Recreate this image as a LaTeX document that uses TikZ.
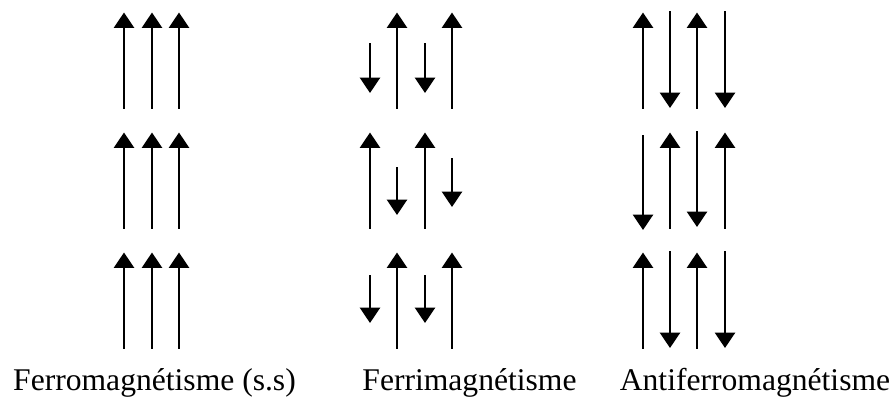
\documentclass[tikz,border=0pt]{standalone}
\usepackage{fontspec}
\setmainfont{Liberation Serif}
\usetikzlibrary{arrows.meta}
\tikzset{spin/.style={line width=1.8pt,-{Triangle[width=15pt,length=11.5pt]}}}

\begin{document}
\begin{tikzpicture}[x=0.75pt,y=-0.75pt]
  \useasboundingbox (0,0) rectangle (893,397);
  % ferro
  \foreach \x in {124,152,179}
    \foreach \y in {0,120,240}
      \draw[spin,shift={(\x,\y)}] (0,108.5) -- (0,12.5);
  % ferri
  \foreach \x in {397,452}
    \foreach \y in {0,240}
      \draw[spin,shift={(\x,\y)}] (0,108.5) -- (0,12.5);
  \foreach \x in {370,425}
    \draw[spin,shift={(\x,0)}] (0,228.5) -- (0,132.5);
  \foreach \x in {370,425}
    \draw[spin,shift={(\x,0)}] (0,43) -- (0,93);
  \foreach \x in {370,425}
    \draw[spin,shift={(\x,0)}] (0,275) -- (0,323);
  \draw[spin] (397,167) -- (397,215);
  \draw[spin] (452,158) -- (452,207);
  % antiferro
  \foreach \x in {643,697}
    \foreach \y in {0,240}
      \draw[spin,shift={(\x,\y)}] (0,108.5) -- (0,12.5);
  \foreach \x in {670,725}
    \foreach \y in {0,240}
      \draw[spin,shift={(\x,\y)}] (0,11) -- (0,108);
  \foreach \x in {670,725}
    \draw[spin,shift={(\x,0)}] (0,228.5) -- (0,132.5);
  \draw[spin] (643,135) -- (643,230);
  \draw[spin] (697,131) -- (697,227);
  % labels
  \node[anchor=base,inner sep=0pt,font=\fontsize{23.7}{28}\selectfont] (ferro) at (154.5,390) {Ferromagnétisme (s.s)};
  \node[anchor=base,inner sep=0pt,font=\fontsize{23.7}{28}\selectfont] (ferri) at (469.5,390) {Ferrimagnétisme};
  \node[anchor=base,inner sep=0pt,font=\fontsize{23.7}{28}\selectfont] (antiferro) at (755,390) {Antiferromagnétisme};
\end{tikzpicture}
\end{document}
